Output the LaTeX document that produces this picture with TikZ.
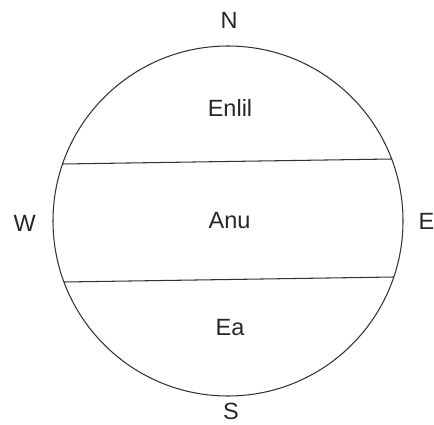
\documentclass[tikz,border=0pt]{standalone}
\usepackage{fontspec}
\setmainfont{Liberation Sans}
\begin{document}
\begin{tikzpicture}[x=1pt,y=-1pt,
  lbl/.style={inner sep=0pt, font=\fontsize{23.5}{28}\selectfont, text=black!85},
  rim/.style={draw=black!80, line width=1.05pt}]
\useasboundingbox (0,0) rectangle (434,425);
\coordinate (O) at (228,221);
\draw[rim] (O) circle[radius=175];
\coordinate (a1) at (62.6,164);
\coordinate (a2) at (391.6,159);
\coordinate (b1) at (64,282);
\coordinate (b2) at (393.8,277);
\draw[rim] (a1) -- (a2);
\draw[rim] (b1) -- (b2);
\node[lbl] (N) at (229,20) {N};
\node[lbl] (S) at (231,411) {S};
\node[lbl] (W) at (24.7,223) {W};
\node[lbl, anchor=west] (E) at (418.5,221) {E};
\node[lbl] (enlil) at (230,107.5) {Enlil};
\node[lbl] (anu) at (229.5,220.5) {Anu};
\node[lbl] (ea) at (230,328) {Ea};
\end{tikzpicture}
\end{document}
